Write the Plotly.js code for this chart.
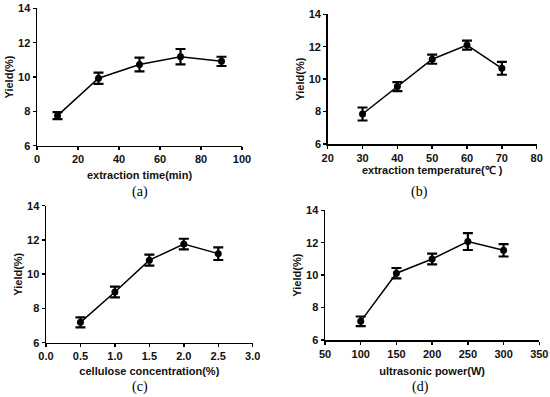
<!DOCTYPE html>
<html>
<head>
<meta charset="utf-8">
<script src="https://cdn.plot.ly/plotly-3.0.1.min.js"></script>
<style>html,body{margin:0;padding:0;background:#fff;}#chart{width:550px;height:397px;}</style>
</head>
<body>
<div id="chart"></div>
<script>
// Panel (a): extraction time
const timeX = [10, 30, 50, 70, 90];
const timeY = [7.75, 9.93, 10.73, 11.18, 10.91];
const timeErr = [0.2, 0.33, 0.4, 0.45, 0.27];
// Panel (b): extraction temperature
const tempX = [30, 40, 50, 60, 70];
const tempY = [7.85, 9.54, 11.23, 12.1, 10.67];
const tempErr = [0.4, 0.28, 0.28, 0.28, 0.4];
// Panel (c): cellulose concentration
const concX = [0.5, 1.0, 1.5, 2.0, 2.5];
const concY = [7.19, 8.96, 10.82, 11.76, 11.2];
const concErr = [0.29, 0.31, 0.32, 0.31, 0.37];
// Panel (d): ultrasonic power
const powerX = [100, 150, 200, 250, 300];
const powerY = [7.15, 10.12, 11.0, 12.07, 11.53];
const powerErr = [0.3, 0.32, 0.33, 0.52, 0.38];

const xTitles = ['extraction time(min)', 'extraction temperature(℃ )', 'cellulose concentration(%)', 'ultrasonic power(W)'];
const yTitle = 'Yield(%)';
const captions = ['(a)', '(b)', '(c)', '(d)'];

const FONT = 'Arial, "Liberation Sans", sans-serif';

function trace(x, y, e, n) {
  return {
    x: x, y: y, type: 'scatter', mode: 'lines+markers',
    xaxis: 'x' + (n === 1 ? '' : n), yaxis: 'y' + (n === 1 ? '' : n),
    line: {color: '#000', width: 1.5},
    marker: {color: '#000', size: 7},
    error_y: {type: 'data', array: e, visible: true, color: '#000', thickness: 2.2, width: 5},
    showlegend: false
  };
}

function xa(domain, anchor, range, dtick, title, standoff, fmt) {
  return {
    domain: domain, anchor: anchor, range: range, dtick: dtick, tick0: range[0],
    showgrid: false, zeroline: false, showline: true, linecolor: '#000', linewidth: 1.5,
    ticks: 'outside', ticklen: 3, tickwidth: 1.5, tickcolor: '#000',
    tickfont: {family: FONT, size: 11, color: '#111', weight: 'bold'},
    tickformat: fmt || '',
    automargin: false,
    title: {text: title, font: {family: FONT, size: 11, color: '#111', weight: 'bold'}, standoff: standoff}
  };
}
function ya(domain, anchor) {
  return {
    domain: domain, anchor: anchor, range: [6, 14], dtick: 2,
    showgrid: false, zeroline: false, showline: true, linecolor: '#000', linewidth: 1.5,
    ticks: 'outside', ticklen: 3, tickwidth: 1.5, tickcolor: '#000',
    tickfont: {family: FONT, size: 11, color: '#111', weight: 'bold'},
    automargin: false,
    title: {text: yTitle, font: {family: FONT, size: 11, color: '#111', weight: 'bold'}, standoff: 2}
  };
}

const data = [
  trace(timeX, timeY, timeErr, 1),
  trace(tempX, tempY, tempErr, 2),
  trace(concX, concY, concErr, 3),
  trace(powerX, powerY, powerErr, 4)
];

const capPos = [[140/550, 1-192/397], [419/550, 1-192/397], [140/550, 1-387/397], [420/550, 1-387/397]];

const layout = {
  width: 550, height: 397,
  margin: {l: 0, r: 0, t: 0, b: 0},
  paper_bgcolor: '#fff', plot_bgcolor: '#fff',
  xaxis: xa([37/550, 242/550], 'y', [0, 100], 20, xTitles[0], 7),
  yaxis: ya([1-145.7/397, 1-8.3/397], 'x'),
  xaxis2: xa([327.7/550, 536.7/550], 'y2', [20, 80], 10, xTitles[1], 3),
  yaxis2: ya([1-144/397, 1-14.3/397], 'x2'),
  xaxis3: xa([46/550, 252.7/550], 'y3', [0, 3], 0.5, xTitles[2], 6, '.1f'),
  yaxis3: ya([1-342.7/397, 1-205.7/397], 'x3'),
  xaxis4: xa([325/550, 539.3/550], 'y4', [50, 350], 50, xTitles[3], 8),
  yaxis4: ya([1-340/397, 1-210.3/397], 'x4'),
  annotations: captions.map((c, i) => ({
    text: c, xref: 'paper', yref: 'paper', x: capPos[i][0], y: capPos[i][1],
    xanchor: 'center', yanchor: 'middle', showarrow: false,
    font: {family: '"Liberation Serif", "Times New Roman", serif', size: 14, color: '#000'}
  }))
};

Plotly.newPlot('chart', data, layout, {displayModeBar: false, staticPlot: true});
</script>
</body>
</html>
